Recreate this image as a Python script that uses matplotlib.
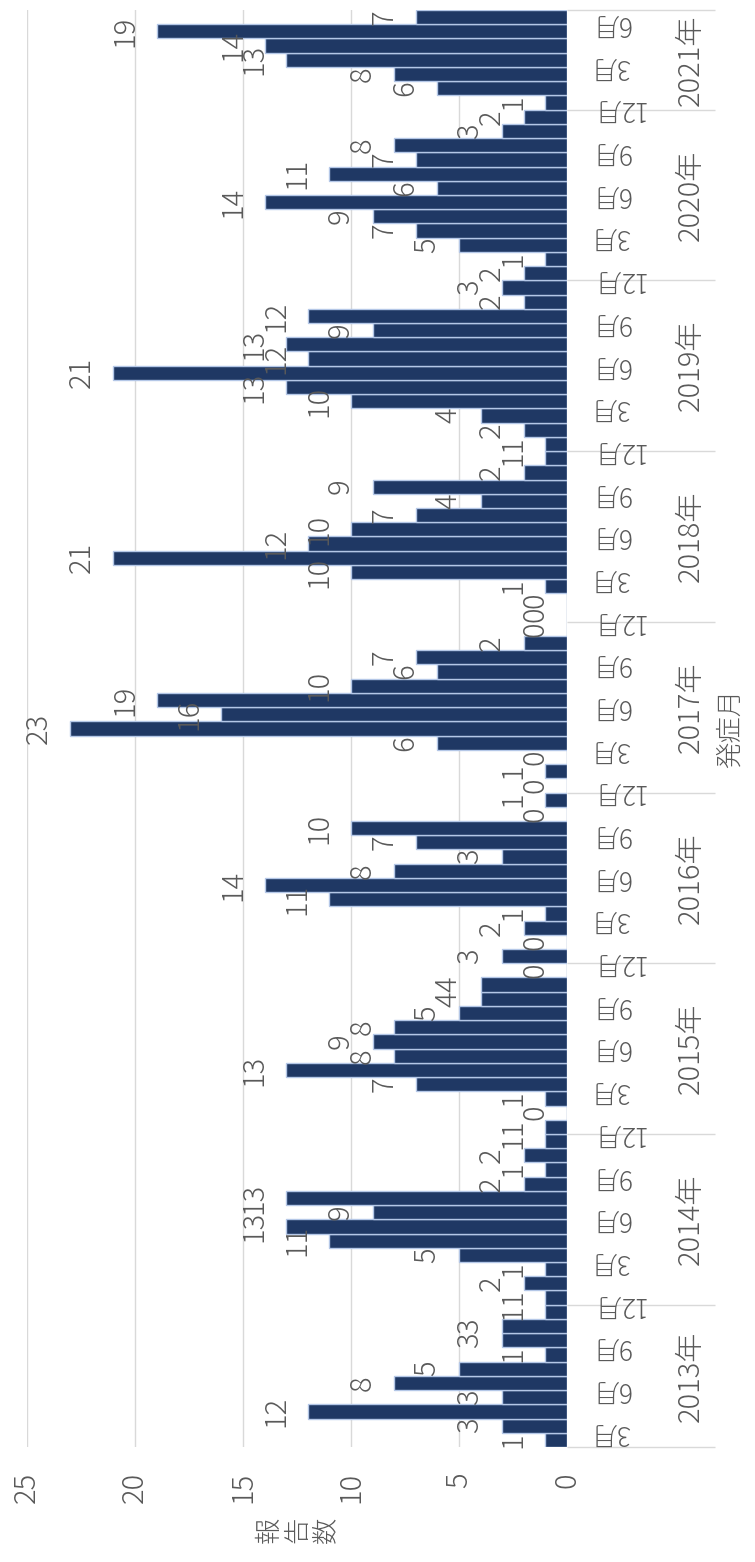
import matplotlib
matplotlib.use("Agg")
import matplotlib.pyplot as plt
import matplotlib.transforms as mtransforms
import numpy as np

plt.rcParams["font.family"] = ["Noto Sans CJK JP", "DejaVu Sans"]
plt.rcParams["font.weight"] = "light"

# Monthly report counts by onset month (2013-03 .. 2021-07)
year_labels = ["2013年", "2014年", "2015年", "2016年", "2017年",
               "2018年", "2019年", "2020年", "2021年"]
first_month = 3  # series starts in March 2013
counts_2013 = [1, 3, 12, 3, 8, 5, 1, 3, 3, 1]
counts_2014 = [1, 2, 1, 5, 11, 13, 9, 13, 2, 1, 2, 1]
counts_2015 = [1, 0, 1, 7, 13, 8, 9, 8, 5, 4, 4, 0]
counts_2016 = [3, 0, 2, 1, 11, 14, 8, 3, 7, 10, 0, 1]
counts_2017 = [0, 1, 0, 6, 23, 16, 19, 10, 6, 7, 2, 0]
counts_2018 = [0, 0, 1, 10, 21, 12, 10, 7, 4, 9, 2, 1]
counts_2019 = [1, 2, 4, 10, 13, 21, 12, 13, 9, 12, 2, 3]
counts_2020 = [2, 1, 5, 7, 9, 14, 6, 11, 7, 8, 3, 2]
counts_2021 = [1, 6, 8, 13, 14, 19, 7]
yearly_counts = [counts_2013, counts_2014, counts_2015, counts_2016, counts_2017,
                 counts_2018, counts_2019, counts_2020, counts_2021]
labelled_months = [3, 6, 9, 12]
value_ticks = [0, 5, 10, 15, 20, 25]

values = []
months = []
year_spans = []
for k, counts in enumerate(yearly_counts):
    start = first_month if k == 0 else 1
    lo = len(values)
    values.extend(counts)
    months.extend(range(start, start + len(counts)))
    year_spans.append((lo - 0.5, len(values) - 0.5))
values = np.array(values)
idx = np.arange(len(values))

TEXT = "#595959"
GRID = "#d9d9d9"
BAR = "#1f3864"
EDGE = "#b4c7e7"

W, H = 755, 1562
fig = plt.figure(figsize=(W / 100, H / 100), dpi=100)
ax = fig.add_axes([27 / W, (H - 1447) / H, 540 / W, 1437 / H])

ax.barh(idx, values, height=1.0, color=BAR, edgecolor=EDGE, linewidth=1.0, zorder=3)
ax.set_xlim(25, 0)
ax.set_ylim(-0.5, len(values) - 0.5)

for s in ax.spines.values():
    s.set_visible(False)

# value axis (runs right to left)
ax.set_xticks(value_ticks)
ax.xaxis.grid(True, color=GRID, linewidth=1.0, zorder=0)
ax.set_axisbelow(True)
ax.tick_params(axis="x", length=0, labelrotation=90, pad=18,
               labelsize=21, labelcolor=TEXT)

# year separators on the category axis
ax.yaxis.tick_right()
bounds = sorted({b for span in year_spans for b in span})
ax.set_yticks(bounds)
ax.set_yticklabels([])
ax.tick_params(axis="y", which="major", length=106.5, width=1.0,
               color=GRID, direction="out", labelright=False)

# value labels at bar ends
for i, v in zip(idx, values):
    ax.annotate(str(v), xy=(v, i), xytext=(-12, 0), textcoords="offset points",
                rotation=90, ha="right", va="center", fontsize=21, color=TEXT)

# month labels
ytrans = ax.get_yaxis_transform()
for i, m in zip(idx, months):
    if m in labelled_months:
        ax.annotate(f"{m}月", xy=(1.0, i + 0.5), xycoords=ytrans,
                    xytext=(16.5, 0), textcoords="offset points",
                    rotation=180, ha="left", va="center", fontsize=19,
                    color=TEXT, annotation_clip=False)

# year labels
blend = mtransforms.blended_transform_factory(ax.transAxes, ax.transData)
for label, (lo, hi) in zip(year_labels, year_spans):
    ax.text((691 - 27) / 540, (lo + hi) / 2, label, transform=blend,
            rotation=90, ha="center", va="center", fontsize=21, color=TEXT)

# axis titles
ax.text((730 - 27) / 540, 0.5, "発症月", transform=ax.transAxes,
        rotation=90, ha="center", va="center", fontsize=19, color=TEXT)
fig.text(297 / W, 1 - 1530 / H, "報\n告\n数", rotation=90, ha="center",
         va="center", fontsize=19, color=TEXT, linespacing=1.0)

fig.savefig("out.png", dpi=100)
